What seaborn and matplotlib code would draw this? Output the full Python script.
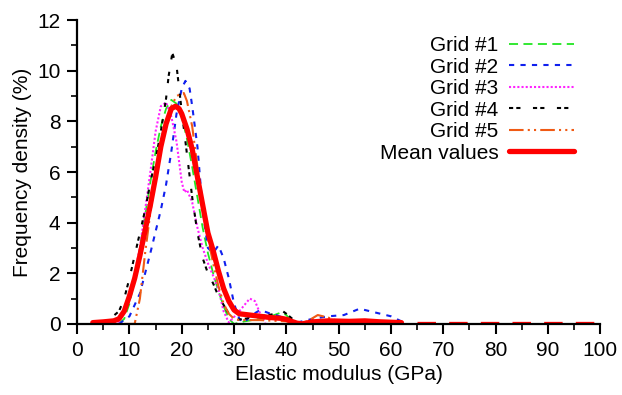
import numpy as np
import pandas as pd
import matplotlib
matplotlib.use("Agg")
import matplotlib.pyplot as plt
from matplotlib.ticker import MultipleLocator
import seaborn as sns

sns.set_theme(style="ticks")
plt.rcParams["font.family"] = ["Liberation Sans", "DejaVu Sans"]
plt.rcParams.update({
    "text.color": "black", "axes.labelcolor": "black", "axes.edgecolor": "black",
    "xtick.color": "black", "ytick.color": "black",
})

# Frequency density (%) of elastic modulus (GPa) for each grid
g1_E = [8, 9, 10, 11, 12, 13, 14, 15, 16, 17, 18, 19, 20, 21, 22, 23, 24, 25, 26, 27, 28, 29, 30, 32, 35, 37, 39, 40, 41, 42]
g1_f = [0.0, 0.2, 0.8, 1.8, 3.0, 4.3, 5.6, 6.8, 7.8, 8.5, 8.85, 8.7, 8.2, 7.3, 6.2, 5.0, 3.8, 2.8, 2.0, 1.3, 0.7, 0.2, 0.0, 0.1, 0.2, 0.3, 0.45, 0.35, 0.1, 0.0]

g2_E = [8, 10, 12, 14, 16, 17, 18, 19, 20, 20.7, 21.5, 22, 23, 24, 25, 26, 27, 28, 29, 30, 31, 32, 33, 35, 37, 38, 40, 42, 45, 48, 51, 54, 57, 60, 62]
g2_f = [0.0, 0.3, 1.2, 2.8, 4.5, 5.5, 6.8, 8.3, 9.3, 9.6, 9.3, 8.6, 7.0, 4.5, 3.0, 2.8, 3.1, 2.6, 1.8, 0.8, 0.2, 0.05, 0.3, 0.55, 0.4, 0.35, 0.2, 0.05, 0.2, 0.3, 0.35, 0.6, 0.45, 0.3, 0.1]

g3_E = [7, 8, 10, 12, 13, 14, 15, 16, 17, 18, 19, 20, 20.5, 21, 22, 23, 24, 25, 26, 27, 28, 29, 31, 33, 34, 35, 36]
g3_f = [0.0, 0.1, 1.0, 3.0, 4.5, 6.0, 7.6, 8.6, 8.75, 8.2, 7.2, 5.6, 5.2, 5.3, 4.8, 3.8, 3.0, 2.4, 1.9, 1.4, 0.5, 0.05, 0.5, 1.0, 0.9, 0.4, 0.05]

g4_E = [3, 4, 6, 8, 9, 10, 11, 12, 13, 14, 15, 16, 17, 17.5, 18.2, 19, 20, 21, 22, 23, 24, 25, 26, 27, 28, 29, 30, 32, 35, 38, 39, 40, 42]
g4_f = [0.0, 0.05, 0.15, 0.5, 1.0, 1.8, 2.7, 3.6, 4.5, 5.6, 6.5, 7.6, 8.9, 9.8, 10.7, 10.2, 8.4, 6.7, 5.0, 3.6, 2.6, 2.0, 1.6, 1.1, 0.75, 0.4, 0.15, 0.2, 0.3, 0.4, 0.55, 0.4, 0.05]

g5_E = [3, 11, 12, 13, 14, 15, 16, 17, 18, 19, 20, 20.4, 21, 22, 23, 24, 25, 26, 27, 28, 29, 30, 31, 35, 40, 42, 44, 46, 48, 50, 52]
g5_f = [0.0, 0.0, 1.0, 2.8, 4.4, 5.8, 7.0, 7.9, 8.6, 9.0, 9.1, 9.12, 8.8, 7.8, 6.2, 4.6, 3.4, 2.4, 1.5, 0.8, 0.4, 0.2, 0.15, 0.15, 0.1, 0.0, 0.1, 0.35, 0.25, 0.1, 0.0]

mean_E = [3, 5, 7, 8, 9, 10, 11, 12, 13, 14, 15, 16, 17, 18, 18.8, 19.5, 20, 21, 22, 23, 24, 25, 26, 27, 28, 29, 30, 31, 33, 35, 37, 39, 40, 41, 42, 43, 45, 48, 52, 55, 58, 62, 65, 70, 75, 80, 85, 90, 95, 100]
mean_f = [0.05, 0.08, 0.12, 0.2, 0.5, 1.1, 1.8, 2.7, 3.7, 4.7, 5.8, 7.0, 7.9, 8.5, 8.6, 8.5, 8.3, 7.7, 6.9, 5.8, 4.7, 3.6, 2.9, 2.1, 1.4, 0.9, 0.55, 0.4, 0.35, 0.3, 0.25, 0.22, 0.18, 0.1, 0.03, 0.0, 0.08, 0.12, 0.1, 0.12, 0.08, 0.05, 0.0, 0.0, 0.0, 0.0, 0.0, 0.0, 0.0, 0.0]

series = [
    ("Grid #1", g1_E, g1_f, dict(color="#22e622", lw=1.3, dashes=(5, 3))),
    ("Grid #2", g2_E, g2_f, dict(color="#1020ee", lw=1.5, dashes=(2.5, 3))),
    ("Grid #3", g3_E, g3_f, dict(color="#ff22ff", lw=1.5, dashes=(1, 1))),
    ("Grid #4", g4_E, g4_f, dict(color="black", lw=1.5, dashes=(2, 1.5, 2, 6))),
    ("Grid #5", g5_E, g5_f, dict(color="#f05a14", lw=1.5, dashes=(7, 2, 1, 2, 1, 2))),
]

fig, ax = plt.subplots(figsize=(6.22, 3.95), dpi=100)
fig.subplots_adjust(left=0.124, right=0.965, bottom=0.18, top=0.949)

for name, E, f, st in series:
    df = pd.DataFrame({"E": E, "f": f})
    sns.lineplot(data=df, x="E", y="f", ax=ax, label=name, color=st["color"],
                 linewidth=st["lw"], dashes=False, estimator=None, sort=False)
    ax.lines[-1].set_dashes(st["dashes"])

mean_df = pd.DataFrame({"E": mean_E, "f": mean_f})
body = mean_df[mean_df["E"] <= 63]
tail = mean_df[mean_df["E"] >= 63]
sns.lineplot(data=body, x="E", y="f", ax=ax, label="Mean values", color="#ff0000",
             linewidth=3.8, estimator=None, sort=False)
sns.lineplot(data=tail, x="E", y="f", ax=ax, color="#ff0000",
             linewidth=3.8, estimator=None, sort=False, legend=False)
ax.lines[-1].set_dashes((3.5, 2.5))

ax.set_xlim(0, 100)
ax.set_ylim(0, 12)
ax.xaxis.set_major_locator(MultipleLocator(10))
ax.xaxis.set_minor_locator(MultipleLocator(5))
ax.yaxis.set_major_locator(MultipleLocator(2))
ax.yaxis.set_minor_locator(MultipleLocator(1))
ax.tick_params(which="major", direction="out", length=7, width=1.5, labelsize=15, pad=5)
ax.tick_params(which="minor", direction="out", length=4, width=1.2)
for s in ("left", "bottom"):
    ax.spines[s].set_linewidth(1.6)
sns.despine(ax=ax)
ax.set_xlabel("Elastic modulus (GPa)", fontsize=15)
ax.set_ylabel("Frequency density (%)", fontsize=15)

leg = ax.legend(loc="upper right", bbox_to_anchor=(0.965, 0.975), frameon=False,
                markerfirst=False, fontsize=15, handlelength=3.1, labelspacing=0.12,
                handletextpad=0.5, borderaxespad=0)

fig.savefig("out.png", dpi=100)
